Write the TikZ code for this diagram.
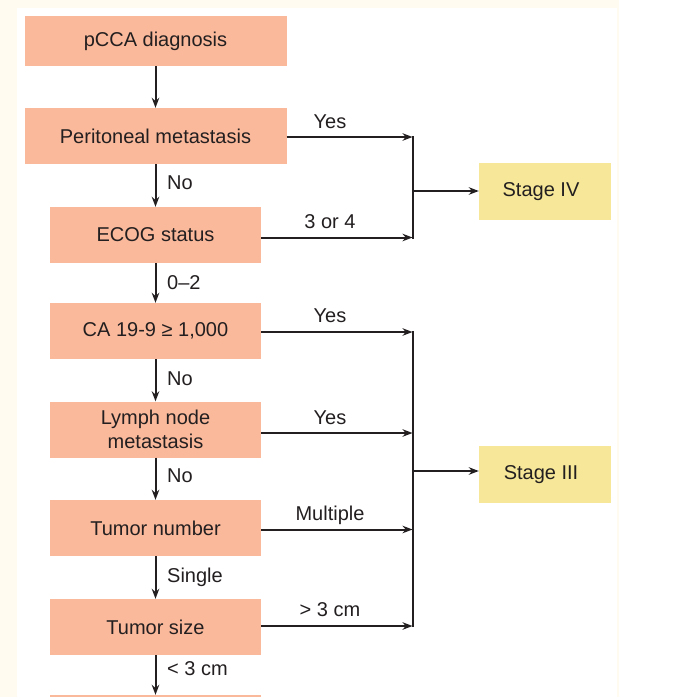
\documentclass[tikz,border=0pt]{standalone}
\usepackage{fontspec}
\setmainfont{Liberation Sans}
\usetikzlibrary{arrows.meta}
\definecolor{boxor}{RGB}{250,185,155}
\definecolor{boxye}{RGB}{246,232,152}
\definecolor{cream}{RGB}{255,251,240}
\definecolor{ink}{RGB}{35,31,32}
\begin{document}
\begin{tikzpicture}[x=1pt,y=-1pt,
  font=\fontsize{20}{23.5}\selectfont,
  obox/.style={fill=boxor, draw=none, minimum width=211pt, minimum height=56pt, inner sep=0pt, align=center, text=ink},
  wbox/.style={obox, minimum width=262pt},
  sbox/.style={fill=boxye, draw=none, minimum width=132pt, minimum height=57pt, inner sep=0pt, text=ink},
  arr/.style={draw=ink, line width=2pt, -{Stealth[length=10pt,width=7.5pt]}},
  ln/.style={draw=ink, line width=2pt, line cap=rect},
  lbl/.style={anchor=base, inner sep=0pt, text=ink},
  dlbl/.style={anchor=base west, inner sep=0pt, text=ink}]
\useasboundingbox (0,0) rectangle (683,697);
\clip (0,0) rectangle (683,697);
\fill[cream] (0,0) rectangle (619,697);
\fill[white] (17,8) rectangle (617,697);

% left column
\node[wbox, minimum height=50pt] (pcca) at (155.5,41) {pCCA diagnosis};
\node[wbox] (peri) at (155.5,136) {Peritoneal metastasis};
\node[obox] (ecog) at (155.5,235) {ECOG status};
\node[obox] (ca) at (155.5,331) {CA 19-9 ≥ 1,000};
\node[obox] (lymph) at (155.5,429.5) {Lymph node\\metastasis};
\node[obox] (tnum) at (155.5,528) {Tumor number};
\node[obox] (tsize) at (155.5,627) {Tumor size};
\node[obox] (nextbox) at (155.5,723) {};

% stages
\node[sbox] (s4) at (545,191.5) {Stage IV\kern8pt};
\node[sbox] (s3) at (545,474.5) {Stage III\kern8pt};

% down arrows
\draw[arr] (pcca.south) -- (peri.north);
\draw[arr] (peri.south) -- (ecog.north);
\draw[arr] (ecog.south) -- (ca.north);
\draw[arr] (ca.south) -- (lymph.north);
\draw[arr] (lymph.south) -- (tnum.north);
\draw[arr] (tnum.south) -- (tsize.north);
\draw[arr] (tsize.south) -- (nextbox.north);

\node[dlbl] (d1) at (167,189) {No};
\node[dlbl] (d2) at (167,289) {0–2};
\node[dlbl] (d3) at (167,385.5) {No};
\node[dlbl] (d4) at (167,482) {No};
\node[dlbl] (d5) at (167,582) {Single};
\node[dlbl] (d6) at (167,675) {< 3 cm};

% Stage IV branch
\coordinate (a1) at (412.5,137);
\coordinate (a2) at (412.5,237.5);
\coordinate (a3) at (412.5,191);
\draw[arr] (peri.east |- a1) -- (a1);
\draw[arr] (ecog.east |- a2) -- (a2);
\draw[ln] (a1) -- (a2);
\draw[arr] (a3) -- (s4.west |- a3);
\node[lbl] (l1) at (330,128) {Yes};
\node[lbl] (l2) at (330,228) {3 or 4};

% Stage III branch
\coordinate (b1) at (412.5,332);
\coordinate (b2) at (412.5,433);
\coordinate (b3) at (412.5,529.5);
\coordinate (b4) at (412.5,626);
\coordinate (b5) at (412.5,471);
\draw[arr] (ca.east |- b1) -- (b1);
\draw[arr] (lymph.east |- b2) -- (b2);
\draw[arr] (tnum.east |- b3) -- (b3);
\draw[arr] (tsize.east |- b4) -- (b4);
\draw[ln] (b1) -- (b4);
\draw[arr] (b5) -- (s3.west |- b5);
\node[lbl] (l3) at (330,322) {Yes};
\node[lbl] (l4) at (330,424) {Yes};
\node[lbl] (l5) at (330,520) {Multiple};
\node[lbl] (l6) at (330,616.5) {> 3 cm};
\end{tikzpicture}
\end{document}
